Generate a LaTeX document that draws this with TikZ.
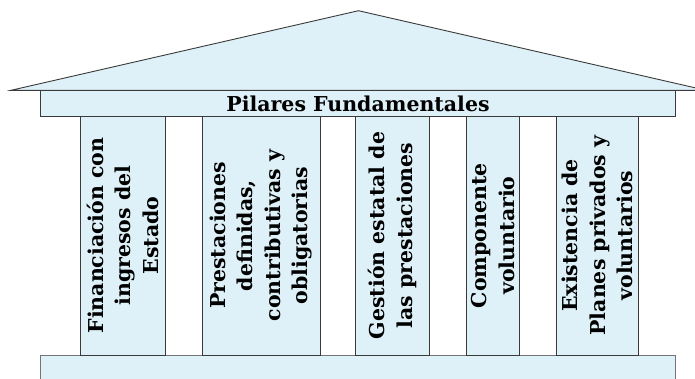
\documentclass[tikz,border=0pt]{standalone}
\usepackage{fontspec}
\setmainfont{DejaVu Serif}
\definecolor{stone}{HTML}{DFF1F8}
\definecolor{edge}{HTML}{3A3A3A}
\tikzset{
  part/.style={draw=edge, fill=stone, line width=0.9pt},
  pillar/.style={part, rotate=90, inner sep=0pt, align=center,
    font=\bfseries\fontsize{20.5}{27.5}\selectfont, minimum height=#1,
    minimum width=239pt},
  pillar/.default=80pt,
}
\begin{document}
\begin{tikzpicture}[x=1pt, y=-1pt]
\useasboundingbox (0,0) rectangle (695,378);
\clip (0,0) rectangle (695,378);
% roof
\coordinate (apex) at (358.5,10.7);
\coordinate (eaveL) at (11,90.3);
\coordinate (eaveR) at (706,90.3);
\draw[part] (eaveL) -- (apex) -- (eaveR) -- cycle;
% architrave with title
\node[part, minimum width=635.5pt, minimum height=26pt, inner sep=0pt,
      font=\bfseries\fontsize{20.5}{24}\selectfont] (title) at (358,103.5)
  {Pilares Fundamentales};
% base
\node[part, draw=edge!70, minimum width=635.5pt, minimum height=40pt, inner sep=0pt] (base) at (358,375) {};
% columns
\node[pillar=85pt] (c1) at (122.5,235.5)
  {Financiación con\\ingresos del\\Estado};
\node[pillar=118pt] (c2) at (261,235.5)
  {Prestaciones\\definidas,\\contributivas y\\obligatorias};
\node[pillar=74pt] (c3) at (392.5,235.5)
  {Gestión estatal de\\las prestaciones};
\node[pillar=53pt] (c4) at (493,235.5)
  {Componente\\voluntario};
\node[pillar=82pt] (c5) at (597.5,235.5)
  {Existencia de\\Planes privados y\\voluntarios};
\end{tikzpicture}
\end{document}
